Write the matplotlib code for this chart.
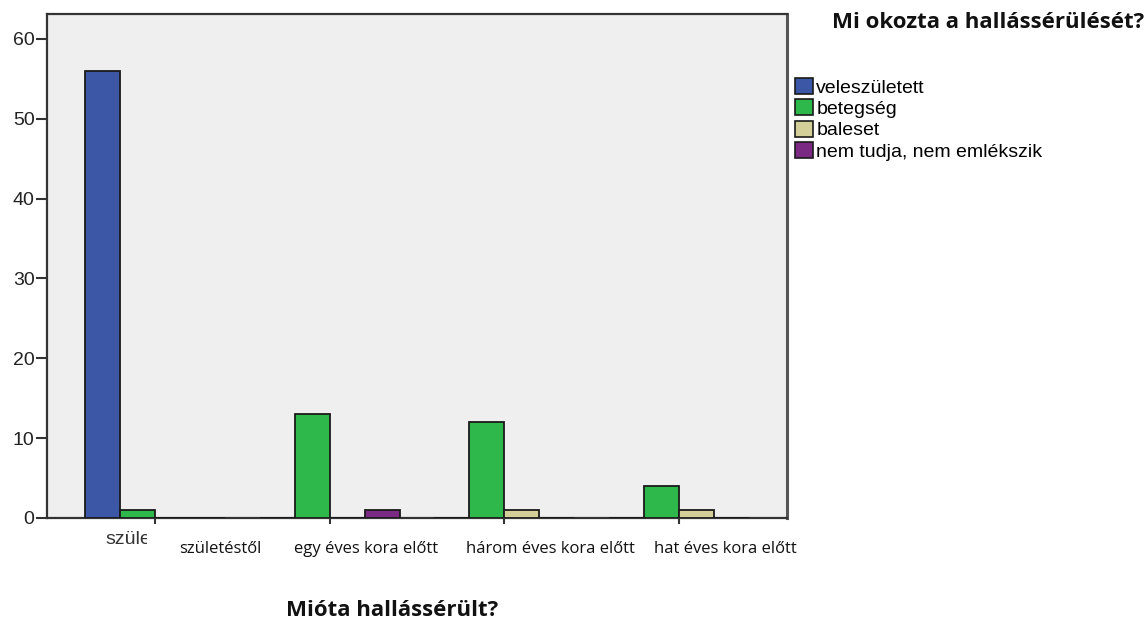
import matplotlib
matplotlib.use("Agg")
import matplotlib.pyplot as plt
import numpy as np
from matplotlib.transforms import Bbox

# Data
age_groups = ["születéstől", "egy éves kora előtt", "három éves kora előtt", "hat éves kora előtt"]
causes = ["veleszületett", "betegség", "baleset", "nem tudja, nem emlékszik"]
veleszuletett = [56, 0, 0, 0]
betegseg = [1, 13, 12, 4]
baleset = [0, 0, 1, 1]
nem_tudja = [0, 1, 0, 0]
series = [veleszuletett, betegseg, baleset, nem_tudja]
colors = ["#3d57a7", "#2eb84b", "#d4cf98", "#7b2a84"]
y_ticks = [0, 10, 20, 30, 40, 50, 60]

W, H = 1148, 622
fig = plt.figure(figsize=(W / 100, H / 100), dpi=100)
fig.patch.set_facecolor("white")

ax = fig.add_axes([47 / W, (H - 518) / H, 740 / W, 504 / H])
ax.set_facecolor("#efefef")

x = np.arange(len(age_groups))
bw = 0.2
for i, (vals, col) in enumerate(zip(series, colors)):
    ax.bar(x + (i - 2) * bw, vals, width=bw, align="edge", color=col,
           edgecolor="#1a1a1a", linewidth=1.3, label=causes[i], zorder=3)

ax.set_xlim(-0.62, 3.62)
ax.set_ylim(0, 63.1)
ax.set_yticks(y_ticks)
ax.set_yticklabels([str(v) for v in y_ticks], fontfamily="Liberation Sans",
                   fontsize=14, color="#222222")
ax.tick_params(axis="y", direction="out", length=8, width=1.5, color="#333333", pad=1)
ax.set_xticks(x)
ax.set_xticklabels([])
ax.tick_params(axis="x", direction="out", length=4, width=1.5, color="#333333")
for s in ax.spines.values():
    s.set_linewidth(1.6)
    s.set_color("#333333")
ax.spines["right"].set_color("#555555")
ax.spines["right"].set_linewidth(2.2)

# original axis label, cut off by the caption box next to it
stub = fig.text(105 / W, 1 - 540 / H, "szüle", ha="left", va="center",
                fontfamily="Liberation Sans", fontsize=14, color="#333333")
stub.set_clip_box(Bbox([[0, 0], [147, H]]))
stub.set_clip_on(True)

# Category captions under the axis
cap_x = [220, 366, 550, 725]
for cx, txt in zip(cap_x, age_groups):
    fig.text(cx / W, 1 - 549 / H, txt, ha="center", va="center",
             fontfamily="Open Sans", fontsize=12, color="#111111")

# Legend
handles = [plt.Rectangle((0, 0), 1, 1, facecolor=c, edgecolor="#1a1a1a", linewidth=1.2)
           for c in colors]
leg = fig.legend(handles, causes, loc="upper left", bbox_to_anchor=(795 / W, 1 - 78 / H),
                 frameon=False, handlelength=0.9, handleheight=0.9, handletextpad=0.2,
                 labelspacing=0.13, borderpad=0, borderaxespad=0,
                 prop={"family": "Liberation Sans", "size": 14})

fig.text(988 / W, 1 - 23 / H, "Mi okozta a hallássérülését?", ha="center", va="center",
         fontfamily="Open Sans", fontweight="bold", fontsize=16, color="#111111")
fig.text(392 / W, 1 - 610 / H, "Mióta hallássérült?", ha="center", va="center",
         fontfamily="Open Sans", fontweight="bold", fontsize=16, color="#111111")

fig.savefig("out.png", dpi=100)
